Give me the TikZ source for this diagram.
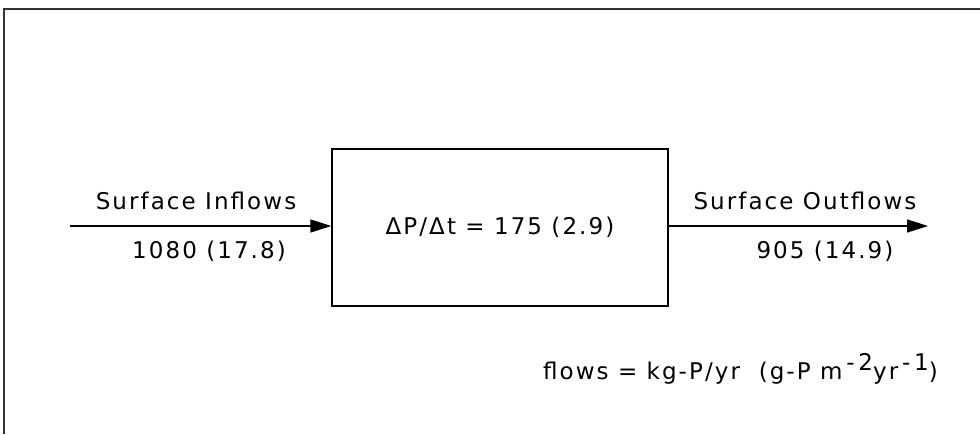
\documentclass[tikz,border=0pt]{standalone}
\usepackage{fontspec}
\setmainfont{DejaVu Sans}[LetterSpace=9]
\usetikzlibrary{arrows.meta}
\newcommand\supx[1]{\raisebox{8.5pt}{#1}}
\begin{document}
\begin{tikzpicture}[x=1pt,y=-1pt,
  lbl/.style={font=\fontsize{23}{27}\selectfont, inner sep=0pt},
  flowarrow/.style={line width=1.4pt, -{Triangle[length=21pt,width=13pt]}},
  poolbox/.style={draw, line width=1.4pt, minimum width=336pt, minimum height=157pt, inner sep=0pt, font=\fontsize{23}{27}\selectfont},
  frameline/.style={draw=black!80, line width=2pt}]
\useasboundingbox (0,0) rectangle (980,434);
% frame (top and left only)
\coordinate (fbl) at (4,434);
\coordinate (ftl) at (4,9);
\coordinate (ftr) at (980,9);
\draw[frameline] (fbl) -- (ftl) -- (ftr);
% box
\node[poolbox] (box) at (500,227.5) {ΔP/Δt = 175 (2.9)};
% arrows
\coordinate (inStart) at (70,226);
\coordinate (outEnd) at (928,226);
\draw[flowarrow] (inStart) -- (box.west |- inStart);
\draw[flowarrow] (box.east |- outEnd) -- (outEnd);
% labels
\node[lbl, anchor=base] (inLbl) at (196,209) {Surface Inflows};
\node[lbl, anchor=base] (inVal) at (209,258) {1080 (17.8)};
\node[lbl, anchor=base] (outLbl) at (805,209) {Surface Outflows};
\node[lbl, anchor=base] (outVal) at (825,258) {905 (14.9)};
\node[lbl, anchor=base east] (units) at (938,379) {flows = kg-P/yr\ \ (g-P m\,\supx{-\,2}yr\,\supx{-\,1})};
\end{tikzpicture}
\end{document}
